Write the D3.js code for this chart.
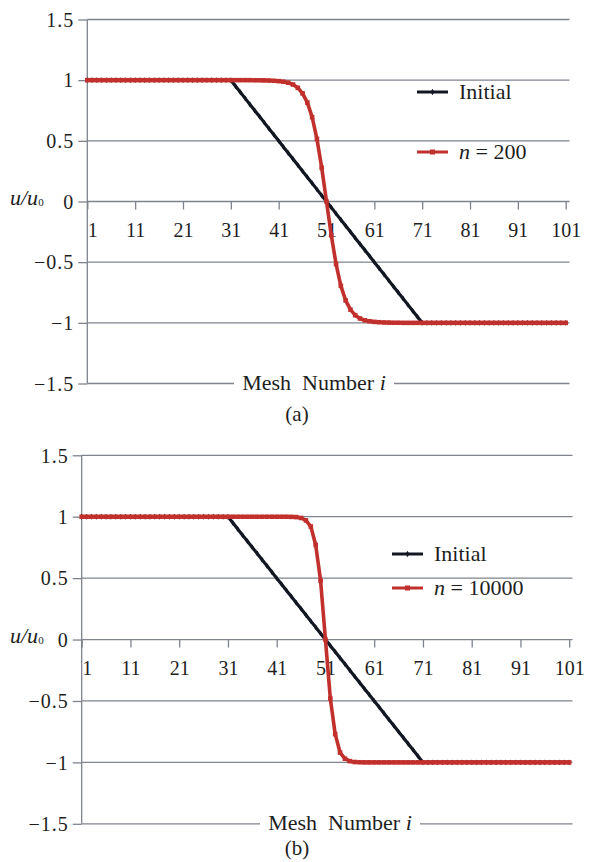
<!DOCTYPE html>
<html>
<head>
<meta charset="utf-8">
<script src="https://cdn.jsdelivr.net/npm/d3@7"></script>
<style>
  html, body { margin: 0; padding: 0; background: #fff; }
  svg { display: block; }
</style>
</head>
<body>
<svg id="chart" width="589" height="862"></svg>
<script>
// Mesh index along the x axis
const meshIndex = d3.range(1, 102);
const xTickValues = [1, 11, 21, 31, 41, 51, 61, 71, 81, 91, 101];
const yTickValues = [-1.5, -1, -0.5, 0, 0.5, 1, 1.5];
const yTickLabels = ["\u22121.5", "\u22121", "\u22120.5", "0", "0.5", "1", "1.5"];

// Initial profile u/u0 at each mesh point (1..101)
const initialValues = [
  1, 1, 1, 1, 1, 1, 1, 1, 1, 1,
  1, 1, 1, 1, 1, 1, 1, 1, 1, 1,
  1, 1, 1, 1, 1, 1, 1, 1, 1, 1,
  1, 0.95, 0.9, 0.85, 0.8, 0.75, 0.7, 0.65, 0.6, 0.55,
  0.5, 0.45, 0.4, 0.35, 0.3, 0.25, 0.2, 0.15, 0.1, 0.05,
  0, -0.05, -0.1, -0.15, -0.2, -0.25, -0.3, -0.35, -0.4, -0.45,
  -0.5, -0.55, -0.6, -0.65, -0.7, -0.75, -0.8, -0.85, -0.9, -0.95,
  -1, -1, -1, -1, -1, -1, -1, -1, -1, -1,
  -1, -1, -1, -1, -1, -1, -1, -1, -1, -1,
  -1, -1, -1, -1, -1, -1, -1, -1, -1, -1,
  -1
];

// Profile after n = 200 steps
const n200Values = [
  1, 1, 1, 1, 1, 1, 1, 1, 1, 1,
  1, 1, 1, 1, 1, 1, 1, 1, 1, 1,
  1, 1, 1, 1, 1, 1, 1, 1, 1, 1,
  1, 1, 1, 1, 1, 0.999, 0.999, 0.998, 0.997, 0.995,
  0.992, 0.987, 0.979, 0.964, 0.937, 0.891, 0.815, 0.695, 0.516, 0.278,
  0, -0.278, -0.516, -0.695, -0.815, -0.891, -0.937, -0.964, -0.979, -0.987,
  -0.992, -0.995, -0.997, -0.998, -0.999, -0.999, -1, -1, -1, -1,
  -1, -1, -1, -1, -1, -1, -1, -1, -1, -1,
  -1, -1, -1, -1, -1, -1, -1, -1, -1, -1,
  -1, -1, -1, -1, -1, -1, -1, -1, -1, -1,
  -1
];

// Profile after n = 10000 steps
const n10000Values = [
  1, 1, 1, 1, 1, 1, 1, 1, 1, 1,
  1, 1, 1, 1, 1, 1, 1, 1, 1, 1,
  1, 1, 1, 1, 1, 1, 1, 1, 1, 1,
  1, 1, 1, 1, 1, 1, 1, 1, 1, 1,
  1, 1, 1, 0.999, 0.997, 0.99, 0.97, 0.92, 0.77, 0.48,
  0, -0.48, -0.77, -0.92, -0.97, -0.99, -0.997, -0.999, -1, -1,
  -1, -1, -1, -1, -1, -1, -1, -1, -1, -1,
  -1, -1, -1, -1, -1, -1, -1, -1, -1, -1,
  -1, -1, -1, -1, -1, -1, -1, -1, -1, -1,
  -1, -1, -1, -1, -1, -1, -1, -1, -1, -1,
  -1
];

const seriesNames = ["Initial", "n = 200", "n = 10000"];
const panelLabels = ["(a)", "(b)"];

const FONT = "'Liberation Serif', 'DejaVu Serif', serif";
const INK = "#121722";
const RED = "#c1302c";
const GRID = "#7e838d";

const svg = d3.select("#chart").attr("font-family", FONT);

function serif(sel, size) {
  return sel.attr("font-family", FONT).style("font-family", FONT).style("font-size", size + "px");
}

function drawPanel(cfg) {
  const g = svg.append("g");
  const x = d3.scaleLinear().domain([1, 101]).range([cfg.x0, cfg.x1]);
  const y = d3.scaleLinear().domain([-1.5, 1.5]).range([cfg.yBot, cfg.yTop]);

  // horizontal grid lines
  g.append("g").selectAll("line").data(yTickValues).join("line")
    .attr("x1", cfg.x0).attr("x2", cfg.gridEnd)
    .attr("y1", d => y(d)).attr("y2", d => y(d))
    .attr("stroke", GRID).attr("stroke-width", 1.3);

  // y axis
  const yAxis = d3.axisLeft(y).tickValues(yTickValues)
    .tickFormat((d, i) => yTickLabels[i]).tickSize(9).tickPadding(4);
  const ya = g.append("g").attr("transform", `translate(${cfg.x0},0)`).call(yAxis);
  ya.attr("font-family", FONT);
  ya.select(".domain").attr("stroke", GRID).attr("stroke-width", 1.3).attr("d", `M0,${cfg.yTop}V${cfg.yBot}`);
  ya.selectAll(".tick line").attr("stroke", GRID).attr("stroke-width", 1.3);
  serif(ya.selectAll(".tick text"), 20).style("letter-spacing", "1px")
    .attr("fill", "#1e1e1e").attr("dy", "0.34em");

  // x axis along u = 0
  const xAxis = d3.axisBottom(x).tickValues(xTickValues).tickSize(8).tickPadding(0);
  const xa = g.append("g").attr("transform", `translate(0,${y(0)})`).call(xAxis);
  xa.attr("font-family", FONT);
  xa.select(".domain").remove();
  xa.selectAll(".tick line").attr("stroke", GRID).attr("stroke-width", 1.3);
  serif(xa.selectAll(".tick text"), 20).attr("fill", "#1e1e1e")
    .attr("y", 35).attr("dy", 0)
    .attr("dx", d => d === 1 ? 5 : 0);

  // axis title on the bottom grid line
  const title = g.append("g");
  title.append("rect").attr("x", cfg.titleCx - 80).attr("y", cfg.yBot - 4)
    .attr("width", 160).attr("height", 8).attr("fill", "#fff");
  const tt = serif(title.append("text"), 22).attr("x", cfg.titleCx).attr("y", cfg.yBot + 6)
    .attr("text-anchor", "middle").attr("fill", "#1e1e1e").style("white-space", "pre");
  tt.append("tspan").text("Mesh  Number ");
  tt.append("tspan").style("font-style", "italic").text("i");

  // y axis label u/u0
  const yl = serif(g.append("text"), 22).attr("x", 10).attr("y", y(0) + 3).attr("fill", "#1e1e1e");
  yl.append("tspan").style("font-style", "italic").text("u/u");
  yl.append("tspan").style("font-size", "11px").attr("dy", 1).text("0");

  // lines
  const line = d3.line().x((d, i) => x(meshIndex[i])).y(d => y(d));
  g.append("path").datum(initialValues).attr("d", line)
    .attr("fill", "none").attr("stroke", INK).attr("stroke-width", 3.2).attr("stroke-linejoin", "round");
  g.append("g").selectAll("path").data(initialValues).join("path")
    .attr("transform", (d, i) => `translate(${x(meshIndex[i])},${y(d)})`)
    .attr("d", d3.symbol(d3.symbolDiamond, 10)).attr("fill", INK);

  g.append("path").datum(cfg.values).attr("d", line)
    .attr("fill", "none").attr("stroke", RED).attr("stroke-width", 3.6).attr("stroke-linejoin", "round");
  g.append("g").selectAll("rect").data(cfg.values).join("rect")
    .attr("x", (d, i) => x(meshIndex[i]) - 2.3).attr("y", d => y(d) - 2.3)
    .attr("width", 4.6).attr("height", 4.6).attr("fill", RED);

  // legend
  const lg = g.append("g");
  const entries = [
    { name: seriesNames[0], color: INK, ly: cfg.legY[0], italic: false },
    { name: cfg.name, color: RED, ly: cfg.legY[1], italic: true }
  ];
  entries.forEach(e => {
    lg.append("line").attr("x1", cfg.legX).attr("x2", cfg.legX + 31)
      .attr("y1", e.ly).attr("y2", e.ly).attr("stroke", e.color).attr("stroke-width", 3);
    if (e.color === RED) {
      lg.append("rect").attr("x", cfg.legX + 13).attr("y", e.ly - 2.5).attr("width", 5).attr("height", 5).attr("fill", RED);
    } else {
      lg.append("path").attr("transform", `translate(${cfg.legX + 15.5},${e.ly})`)
        .attr("d", d3.symbol(d3.symbolDiamond, 12)).attr("fill", INK);
    }
    const t = serif(lg.append("text"), 22).attr("x", cfg.legX + 42).attr("y", e.ly + 7)
      .attr("fill", "#1e1e1e").style("white-space", "pre");
    if (e.italic) {
      const parts = e.name.split(" ");
      t.append("tspan").style("font-style", "italic").text(parts[0]);
      t.append("tspan").text(" " + parts.slice(1).join(" "));
    } else {
      t.text(e.name);
    }
  });

  // panel label
  serif(g.append("text"), 21).attr("x", 297).attr("y", cfg.capY).attr("text-anchor", "middle")
    .attr("fill", "#1e1e1e").text(cfg.caption);
}

drawPanel({
  x0: 87.3, x1: 565.7, gridEnd: 569.5, yTop: 19.5, yBot: 383.5,
  values: n200Values, name: seriesNames[1],
  legX: 417, legY: [92, 152], titleCx: 314, capY: 421, caption: panelLabels[0]
});
drawPanel({
  x0: 81.7, x1: 569.2, gridEnd: 572.5, yTop: 455.3, yBot: 823.8,
  values: n10000Values, name: seriesNames[2],
  legX: 392, legY: [554, 588], titleCx: 340, capY: 855, caption: panelLabels[1]
});
</script>
</body>
</html>
